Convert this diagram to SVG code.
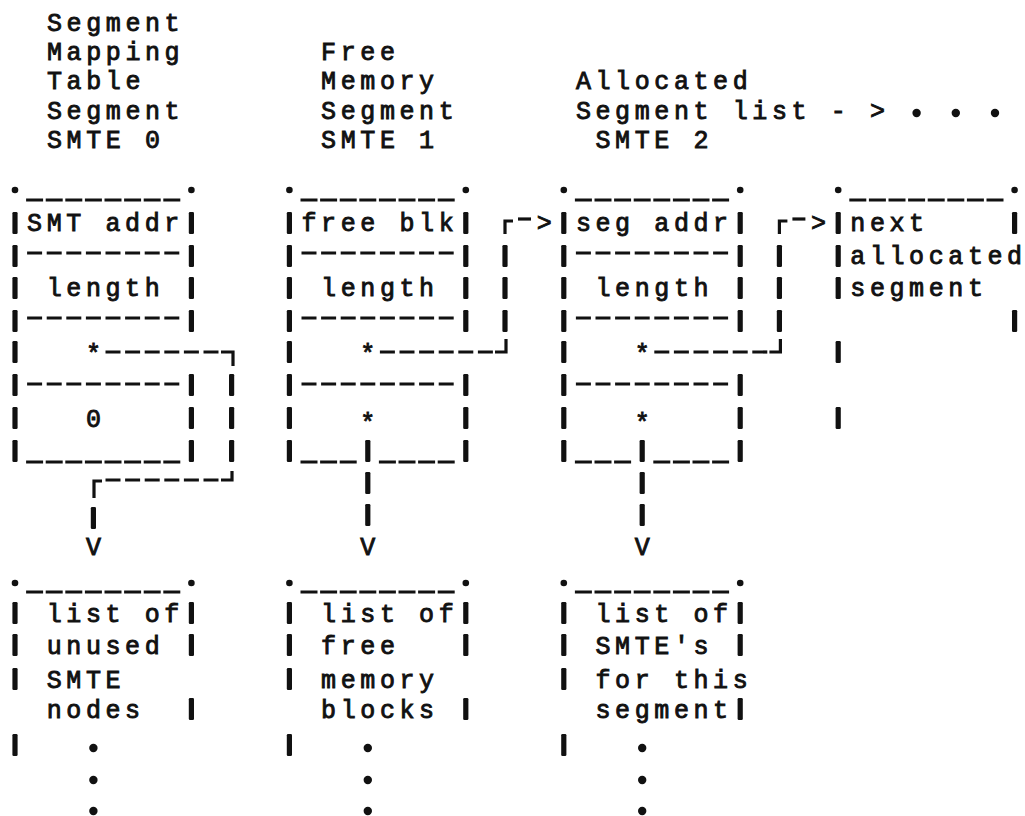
<svg xmlns="http://www.w3.org/2000/svg" width="1025" height="816" viewBox="0 0 1025 816">
<style>
  text { font-family: "Liberation Mono", "DejaVu Sans Mono", monospace; font-size: 25px; letter-spacing: 4.6px; fill: #111; stroke: #111; stroke-width: 0.9px; white-space: pre; }
  .hy { stroke: #111; stroke-width: 3.2; stroke-dasharray: 15 4.6; fill: none; }
  .us { stroke: #111; stroke-width: 2.8; stroke-dasharray: 17 2.6; fill: none; }
  .ln { stroke: #111; stroke-width: 3.2; fill: none; }
  .bar, .dot { fill: #111; }
</style>
<defs>
  <!-- typewriter glyph pieces on a 19.6px column grid -->
  <rect id="b" class="bar" x="-2.6" y="-11" width="5.2" height="22" rx="1.3"/>
  <circle id="d" class="dot" r="3.3"/>
  <circle id="p" class="dot" r="4.2"/>
</defs>
<rect width="1025" height="816" fill="#fff"/>

<!-- SMTE 0 : segment mapping table segment -->
<g id="smte0">
  <text x="47" y="31">Segment</text>
  <text x="47" y="60">Mapping</text>
  <text x="47" y="89">Table</text>
  <text x="47" y="119">Segment</text>
  <text x="47" y="148">SMTE 0</text>
  <use href="#d" x="15" y="190"/><use href="#d" x="191.4" y="190"/>
  <line class="us" x1="26.1" y1="200" x2="180.3" y2="200"/>
  <use href="#b" x="15" y="223"/><use href="#b" x="191.4" y="223"/>
  <text x="27.1" y="231">SMT addr</text>
  <use href="#b" x="15" y="256"/><use href="#b" x="191.4" y="256"/>
  <line class="hy" x1="27.1" y1="253" x2="179.3" y2="253"/>
  <use href="#b" x="15" y="288"/><use href="#b" x="191.4" y="288"/>
  <text x="46.7" y="296">length</text>
  <use href="#b" x="15" y="321"/><use href="#b" x="191.4" y="321"/>
  <line class="hy" x1="27.1" y1="318" x2="179.3" y2="318"/>
  <use href="#b" x="15" y="352"/>
  <text x="85.9" y="362">*</text>
  <use href="#b" x="15" y="385"/><use href="#b" x="191.4" y="385"/>
  <line class="hy" x1="27.1" y1="384" x2="179.3" y2="384"/>
  <use href="#b" x="15" y="418"/><use href="#b" x="191.4" y="418"/>
  <text x="85.9" y="427">0</text>
  <use href="#b" x="15" y="451"/><use href="#b" x="191.4" y="451"/>
  <line class="us" x1="26.1" y1="462" x2="180.3" y2="462"/>
</g>

<!-- SMTE 1 : free memory segment -->
<g id="smte1">
  <text x="321.1" y="60">Free</text>
  <text x="321.1" y="89">Memory</text>
  <text x="321.1" y="119">Segment</text>
  <text x="321.1" y="148">SMTE 1</text>
  <use href="#d" x="289.4" y="190"/><use href="#d" x="465.8" y="190"/>
  <line class="us" x1="300.5" y1="200" x2="454.7" y2="200"/>
  <use href="#b" x="289.4" y="223"/><use href="#b" x="465.8" y="223"/>
  <text x="301.5" y="231">free blk</text>
  <use href="#b" x="289.4" y="256"/><use href="#b" x="465.8" y="256"/>
  <line class="hy" x1="301.5" y1="253" x2="453.7" y2="253"/>
  <use href="#b" x="289.4" y="288"/><use href="#b" x="465.8" y="288"/>
  <text x="321.1" y="296">length</text>
  <use href="#b" x="289.4" y="321"/><use href="#b" x="465.8" y="321"/>
  <line class="hy" x1="301.5" y1="318" x2="453.7" y2="318"/>
  <use href="#b" x="289.4" y="352"/>
  <text x="360.3" y="362">*</text>
  <use href="#b" x="289.4" y="385"/><use href="#b" x="465.8" y="385"/>
  <line class="hy" x1="301.5" y1="384" x2="453.7" y2="384"/>
  <use href="#b" x="289.4" y="418"/><use href="#b" x="465.8" y="418"/>
  <text x="360.3" y="431">*</text>
  <use href="#b" x="289.4" y="451"/><use href="#b" x="465.8" y="451"/>
  <line class="us" x1="300.5" y1="462" x2="356.7" y2="462"/>
  <line class="us" x1="378.9" y1="462" x2="454.7" y2="462"/>
</g>

<!-- SMTE 2 : head of the allocated segment list -->
<g id="smte2">
  <text x="575.9" y="89">Allocated</text>
  <text x="575.9" y="119">Segment list - &gt;</text>
  <use href="#p" x="916.6" y="113"/><use href="#p" x="955.8" y="113"/><use href="#p" x="995" y="113"/>
  <text x="595.5" y="148">SMTE 2</text>
  <use href="#d" x="563.8" y="190"/><use href="#d" x="740.2" y="190"/>
  <line class="us" x1="574.9" y1="200" x2="729.1" y2="200"/>
  <use href="#b" x="563.8" y="223"/><use href="#b" x="740.2" y="223"/>
  <text x="575.9" y="231">seg addr</text>
  <use href="#b" x="563.8" y="256"/><use href="#b" x="740.2" y="256"/>
  <line class="hy" x1="575.9" y1="253" x2="728.1" y2="253"/>
  <use href="#b" x="563.8" y="288"/><use href="#b" x="740.2" y="288"/>
  <text x="595.5" y="296">length</text>
  <use href="#b" x="563.8" y="321"/><use href="#b" x="740.2" y="321"/>
  <line class="hy" x1="575.9" y1="318" x2="728.1" y2="318"/>
  <use href="#b" x="563.8" y="352"/>
  <text x="634.7" y="362">*</text>
  <use href="#b" x="563.8" y="385"/><use href="#b" x="740.2" y="385"/>
  <line class="hy" x1="575.9" y1="384" x2="728.1" y2="384"/>
  <use href="#b" x="563.8" y="418"/><use href="#b" x="740.2" y="418"/>
  <text x="634.7" y="431">*</text>
  <use href="#b" x="563.8" y="451"/><use href="#b" x="740.2" y="451"/>
  <line class="us" x1="574.9" y1="462" x2="631.1" y2="462"/>
  <line class="us" x1="653.3" y1="462" x2="729.1" y2="462"/>
</g>

<!-- next allocated segment -->
<g id="next-segment">
  <use href="#d" x="838.2" y="190"/><use href="#d" x="1014.6" y="190"/>
  <line class="us" x1="849.3" y1="200" x2="1003.5" y2="200"/>
  <use href="#b" x="838.2" y="223"/><use href="#b" x="1014.6" y="223"/>
  <text x="850.3" y="231">next</text>
  <use href="#b" x="838.2" y="256"/>
  <text x="850.3" y="264">allocated</text>
  <use href="#b" x="838.2" y="288"/>
  <text x="850.3" y="296">segment</text>
  <use href="#b" x="1014.6" y="321"/>
  <use href="#b" x="838.2" y="352"/>
  <use href="#b" x="838.2" y="418"/>
</g>

<!-- list of unused SMTE nodes -->
<g id="unused-list">
  <use href="#d" x="15" y="583"/><use href="#d" x="191.4" y="583"/>
  <line class="us" x1="26.1" y1="592" x2="180.3" y2="592"/>
  <use href="#b" x="15" y="613"/><use href="#b" x="191.4" y="613"/>
  <text x="46.7" y="622">list of</text>
  <use href="#b" x="15" y="645"/><use href="#b" x="191.4" y="645"/>
  <text x="46.7" y="654">unused</text>
  <use href="#b" x="15" y="679"/>
  <text x="46.7" y="688">SMTE</text>
  <use href="#b" x="191.4" y="709"/>
  <text x="46.7" y="718">nodes</text>
  <use href="#b" x="15" y="745"/>
  <use href="#p" x="93.4" y="748"/><use href="#p" x="93.4" y="780"/><use href="#p" x="93.4" y="811"/>
</g>

<!-- list of free memory blocks -->
<g id="free-list">
  <use href="#d" x="289.4" y="583"/><use href="#d" x="465.8" y="583"/>
  <line class="us" x1="300.5" y1="592" x2="454.7" y2="592"/>
  <use href="#b" x="289.4" y="613"/><use href="#b" x="465.8" y="613"/>
  <text x="321.1" y="622">list of</text>
  <use href="#b" x="289.4" y="645"/><use href="#b" x="465.8" y="645"/>
  <text x="321.1" y="654">free</text>
  <use href="#b" x="289.4" y="679"/>
  <text x="321.1" y="688">memory</text>
  <use href="#b" x="465.8" y="709"/>
  <text x="321.1" y="718">blocks</text>
  <use href="#b" x="289.4" y="745"/>
  <use href="#p" x="367.8" y="748"/><use href="#p" x="367.8" y="780"/><use href="#p" x="367.8" y="811"/>
</g>

<!-- list of SMTE's for this segment -->
<g id="segment-smte-list">
  <use href="#d" x="563.8" y="583"/><use href="#d" x="740.2" y="583"/>
  <line class="us" x1="574.9" y1="592" x2="729.1" y2="592"/>
  <use href="#b" x="563.8" y="613"/><use href="#b" x="740.2" y="613"/>
  <text x="595.5" y="622">list of</text>
  <use href="#b" x="563.8" y="645"/><use href="#b" x="740.2" y="645"/>
  <text x="595.5" y="654">SMTE's</text>
  <use href="#b" x="563.8" y="679"/>
  <text x="595.5" y="688">for this</text>
  <use href="#b" x="740.2" y="709"/>
  <text x="595.5" y="718">segment</text>
  <use href="#b" x="563.8" y="745"/>
  <use href="#p" x="642.2" y="748"/><use href="#p" x="642.2" y="780"/><use href="#p" x="642.2" y="811"/>
</g>

<!-- pointers between the tables -->
<g id="connectors">
  <!-- SMTE 0 pointer down to the unused list -->
  <line class="hy" x1="105.5" y1="352" x2="218.5" y2="352"/>
  <path class="ln" d="M221 352 H233 V366"/>
  <use href="#b" x="231.6" y="385"/><use href="#b" x="231.6" y="418"/><use href="#b" x="231.6" y="451"/>
  <path class="ln" d="M221 480 H232 V471"/>
  <line class="hy" x1="105.5" y1="480" x2="218.5" y2="480"/>
  <path class="ln" d="M94 498 V481 H102"/>
  <use href="#b" x="93.4" y="518"/>
  <text x="85.9" y="555">V</text>

  <!-- SMTE 1 pointer across to SMTE 2 -->
  <line class="hy" x1="379.9" y1="352" x2="492.9" y2="352"/>
  <path class="ln" d="M495 352 H506 V339"/>
  <use href="#b" x="505" y="321"/><use href="#b" x="505" y="288"/><use href="#b" x="505" y="256"/>
  <path class="ln" d="M505 234 V221 H513"/>
  <line class="ln" x1="518" y1="219" x2="531" y2="219"/>
  <text x="536.7" y="231">&gt;</text>

  <!-- SMTE 2 pointer across to the next allocated segment -->
  <line class="hy" x1="654.3" y1="352" x2="767.3" y2="352"/>
  <path class="ln" d="M769.4 352 H780.4 V339"/>
  <use href="#b" x="779.4" y="321"/><use href="#b" x="779.4" y="288"/><use href="#b" x="779.4" y="256"/>
  <path class="ln" d="M779.4 234 V221 H787.4"/>
  <line class="ln" x1="792.4" y1="219" x2="805.4" y2="219"/>
  <text x="811.1" y="231">&gt;</text>

  <!-- SMTE 1 pointer down to the free block list -->
  <use href="#b" x="367.8" y="451"/><use href="#b" x="367.8" y="483"/><use href="#b" x="367.8" y="515"/>
  <text x="360.3" y="555">V</text>

  <!-- SMTE 2 pointer down to its SMTE list -->
  <use href="#b" x="642.2" y="451"/><use href="#b" x="642.2" y="483"/><use href="#b" x="642.2" y="515"/>
  <text x="634.7" y="555">V</text>
</g>
</svg>
